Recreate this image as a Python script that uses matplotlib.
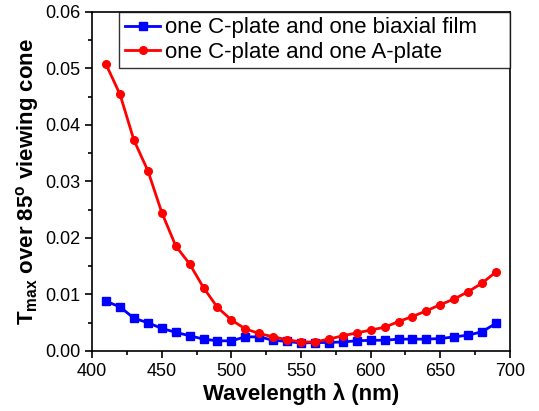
import matplotlib
matplotlib.use("Agg")
import matplotlib.pyplot as plt
from matplotlib.ticker import MultipleLocator

plt.rcParams["font.family"] = ["Liberation Sans", "DejaVu Sans"]
plt.rcParams["mathtext.fontset"] = "custom"
plt.rcParams["mathtext.rm"] = "Liberation Sans"
plt.rcParams["mathtext.bf"] = "Liberation Sans:bold"

wavelength = list(range(410, 700, 10))

biaxial = [0.0088, 0.0078, 0.0058, 0.0050, 0.0040, 0.0033, 0.0027, 0.0021,
           0.0018, 0.0018, 0.0025, 0.0025, 0.0019, 0.0017, 0.0014, 0.0015,
           0.0015, 0.0016, 0.0018, 0.0019, 0.0019, 0.0021, 0.0021, 0.0021,
           0.0022, 0.0025, 0.0028, 0.0034, 0.0049]

aplate = [0.0507, 0.0454, 0.0373, 0.0319, 0.0245, 0.0186, 0.0154, 0.0112,
          0.0077, 0.0055, 0.0039, 0.0031, 0.0025, 0.0020, 0.0016, 0.0016,
          0.0021, 0.0027, 0.0032, 0.0037, 0.0042, 0.0052, 0.0061, 0.0071,
          0.0082, 0.0092, 0.0105, 0.0120, 0.0140]

labels = ["one C-plate and one biaxial film", "one C-plate and one A-plate"]

fig = plt.figure(figsize=(5.39, 4.11), dpi=100)
ax = fig.add_axes([0.171, 0.146, 0.775, 0.825])

ax.plot(wavelength, biaxial, color="#0000ff", marker="s", markersize=5.5,
        linewidth=2, label=labels[0])
ax.plot(wavelength, aplate, color="#ff0000", marker="o", markersize=5.5,
        linewidth=2, label=labels[1])

ax.set_xlim(400, 700)
ax.set_ylim(0, 0.06)
ax.xaxis.set_major_locator(MultipleLocator(50))
ax.xaxis.set_minor_locator(MultipleLocator(25))
ax.yaxis.set_major_locator(MultipleLocator(0.01))
ax.yaxis.set_minor_locator(MultipleLocator(0.005))
ax.yaxis.set_major_formatter(plt.FormatStrFormatter("%.2f"))
ax.tick_params(which="major", direction="out", length=5, width=1.2, labelsize=13)
ax.tick_params(which="minor", direction="out", length=3, width=1.2)
for s in ax.spines.values():
    s.set_linewidth(1.2)

ax.set_xlabel("Wavelength \u03bb (nm)", fontsize=16, fontweight="bold", labelpad=2)
ax.set_ylabel(r"$\mathbf{T_{max}}$ over 85$^{\mathbf{o}}$ viewing cone",
              fontsize=16, fontweight="bold", labelpad=3)

leg = ax.legend(loc="upper right", bbox_to_anchor=(0.065, 0.0, 0.935, 1.0),
                mode="expand", fontsize=16, frameon=True, fancybox=False,
                edgecolor="black", handlelength=1.6, handletextpad=0.2,
                borderaxespad=0.0, borderpad=0.25, labelspacing=0.15)
leg.get_frame().set_linewidth(1.0)

fig.savefig("out.png", dpi=100)
